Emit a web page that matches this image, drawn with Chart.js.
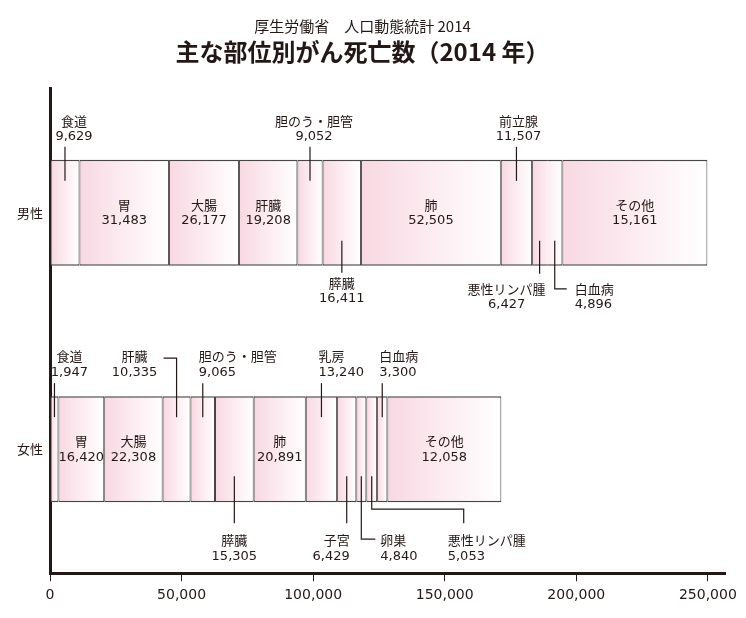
<!DOCTYPE html>
<html lang="ja">
<head>
<meta charset="utf-8">
<title>主な部位別がん死亡数（2014 年）</title>
<script src="https://cdn.jsdelivr.net/npm/chart.js@4.4.1/dist/chart.umd.min.js"></script>
<style>
  html, body { margin: 0; padding: 0; background: #fff; }
  canvas { display: block; }
</style>
</head>
<body>
<canvas id="cancer-chart" width="746" height="618"></canvas>
<script>
// 性別（縦軸のカテゴリ）
const genders = ['男性', '女性'];

// 部位（積み上げの順番）
const segments = ['食道', '胃', '大腸', '肝臓', '胆のう・胆管', '膵臓', '肺',
  '前立腺', '乳房', '子宮', '卵巣', '悪性リンパ腫', '白血病', 'その他'];

// 図に書かれている死亡数
const maleDeaths   = [9629, 31483, 26177, 19208, 9052, 16411, 52505, 11507, null, null, null, 6427, 4896, 15161];
const femaleDeaths = [1947, 16420, 22308, 10335, 9065, 15305, 20891, null, 13240, 6429, 4840, 5053, 3300, 12058];

// 横軸で読んだ帯の長さ（元の図は数値に比例して描かれていない）
const maleBarLength   = [11200, 34000, 26600, 22200, 9600, 14600, 53100, 11900, null, null, null, 5700, 5800, 55100];
const femaleBarLength = [3200, 17400, 22200, 10600, 9300, 14700, 19800, null, 11900, 7300, 3800, 4100, 3900, 43300];

// 横軸の目盛り
const xTicks = [0, 50000, 100000, 150000, 200000, 250000];

const deaths = [maleDeaths, femaleDeaths];
const barLength = [maleBarLength, femaleBarLength];

const ink = '#231815';
const edgeColor = '#4a4545';
const numberFont = '13px "DejaVu Sans"';
const nameFont = '13px "Noto Sans CJK JP"';

// 男性の悪性リンパ腫と白血病は仕切りなしの一つの枠
const mergedBoxes = [[['悪性リンパ腫', '白血病']], []];

// 引き出し線つきラベルの配置（帯の上端/下端からの相対位置）
const callouts = [
  {
    '食道':         { side: 'up', leader: [[0, 21], [0, -13]], dx: 9, dy: -39 },
    '胆のう・胆管': { side: 'up', leader: [[0, 21], [0, -13]], dx: 4, dy: -39 },
    '前立腺':       { side: 'up', leader: [[0, 21], [0, -13]], dx: 2, dy: -39 },
    '膵臓':         { side: 'down', leader: [[0, -25], [0, 7]], dx: 0, dy: 17 },
    '悪性リンパ腫': { side: 'down', leader: [[0, -25], [0, 8]], dx: -33, dy: 23 },
    '白血病':       { side: 'down', leader: [[0, -25], [0, 23], [12, 23]], dx: 20, dy: 23, align: 'left' }
  },
  {
    '食道':         { side: 'up', leader: [[0, 21], [0, -13]], dx: 15, dy: -40 },
    '肝臓':         { side: 'up', leader: [[0, 21], [0, -38], [-13, -38]], dx: -42, dy: -40 },
    '胆のう・胆管': { side: 'up', leader: [[0, 21], [0, -13]], dx: -4, dy: -40, align: 'left' },
    '乳房':         { side: 'up', leader: [[0, 21], [0, -13]], dx: -3, dy: -40, align: 'left' },
    '白血病':       { side: 'up', leader: [[0, 21], [0, -13]], dx: -3, dy: -40, align: 'left' },
    '膵臓':         { side: 'down', leader: [[0, -26], [0, 21]], dx: 0, dy: 38 },
    '子宮':         { side: 'down', leader: [[0, -26], [0, 21]], dx: 3, dy: 38, align: 'right' },
    '卵巣':         { side: 'down', leader: [[0, -26], [0, 37], [14, 37]], dx: 19, dy: 38, align: 'left' },
    '悪性リンパ腫': { side: 'down', leader: [[0, -26], [0, 7], [92, 7], [92, 21]], dx: 76, dy: 38, align: 'left' }
  }
];

function findMerge(gi, name) {
  return mergedBoxes[gi].find(group => group.includes(name));
}

// 枠の値の範囲（結合された枠は全体）
function boxRange(gi, di) {
  const lens = barLength[gi];
  const startOf = i => lens.slice(0, i).reduce((s, v) => s + (v || 0), 0);
  const group = findMerge(gi, segments[di]);
  if (group) {
    const first = segments.indexOf(group[0]);
    const last = segments.indexOf(group[group.length - 1]);
    return [startOf(first), startOf(last) + lens[last]];
  }
  return [startOf(di), startOf(di) + lens[di]];
}

function segmentFill(context) {
  const chart = context.chart;
  const xScale = chart.scales && chart.scales.x;
  if (!chart.chartArea || !xScale) return '#f9dde6';
  const [from, to] = boxRange(context.dataIndex, context.datasetIndex);
  const x0 = xScale.getPixelForValue(from);
  const x1 = xScale.getPixelForValue(to);
  if (!isFinite(x0) || !isFinite(x1) || x1 <= x0) return '#f9dde6';
  const g = chart.ctx.createLinearGradient(x0, 0, x1, 0);
  g.addColorStop(0, '#f8d8e2');
  g.addColorStop(0.5, '#fcecf1');
  g.addColorStop(1, '#ffffff');
  return g;
}

function segmentBorder(context) {
  const name = segments[context.datasetIndex];
  const w = { top: 1.5, bottom: 1.5, left: 1, right: 1 };
  const group = findMerge(context.dataIndex, name);
  if (group) {
    if (name !== group[0]) w.left = 0;
    if (name !== group[group.length - 1]) w.right = 0;
  }
  return w;
}

function drawPair(ctx, name, count, x, y, align) {
  ctx.textAlign = align;
  ctx.font = nameFont;
  ctx.fillText(name, x, y);
  ctx.font = numberFont;
  ctx.fillText(count.toLocaleString('en-US'), x, y + 16);
}

const calloutPlugin = {
  id: 'callouts',
  afterDatasetsDraw(chart) {
    const ctx = chart.ctx;
    ctx.save();
    ctx.fillStyle = ink;
    ctx.strokeStyle = ink;
    ctx.lineWidth = 1.2;
    ctx.textBaseline = 'middle';
    segments.forEach((name, di) => {
      const meta = chart.getDatasetMeta(di);
      genders.forEach((gender, gi) => {
        const count = deaths[gi][di];
        if (count == null) return;
        const bar = meta.data[gi];
        const cx = (bar.x + bar.base) / 2;
        const c = callouts[gi][name];
        if (!c) {
          drawPair(ctx, name, count, cx, bar.y - 8, 'center');
          return;
        }
        const edge = c.side === 'up' ? bar.y - bar.height / 2 : bar.y + bar.height / 2;
        ctx.beginPath();
        c.leader.forEach(([dx, dy], k) => {
          if (k === 0) ctx.moveTo(cx + dx, edge + dy);
          else ctx.lineTo(cx + dx, edge + dy);
        });
        ctx.stroke();
        drawPair(ctx, name, count, cx + c.dx, edge + c.dy, c.align || 'center');
      });
    });
    ctx.restore();
  }
};

Chart.defaults.font.family = '"Noto Sans CJK JP", "Noto Sans", sans-serif';
Chart.defaults.color = ink;

const datasets = segments.map((name, di) => ({
  label: name,
  data: [maleBarLength[di], femaleBarLength[di]],
  backgroundColor: segmentFill,
  borderColor: edgeColor,
  borderWidth: segmentBorder,
  borderSkipped: false,
  inflateAmount: 0,
  barThickness: 106
}));

new Chart(document.getElementById('cancer-chart'), {
  type: 'bar',
  data: { labels: genders, datasets },
  options: {
    indexAxis: 'y',
    responsive: false,
    animation: false,
    events: [],
    layout: { padding: { top: 0, right: 21, bottom: 8, left: 0 } },
    plugins: {
      legend: { display: false },
      tooltip: { enabled: false },
      title: {
        display: true,
        text: '厚生労働省　人口動態統計 2014',
        color: ink,
        font: { size: 15, weight: 'normal' },
        padding: { top: 17, bottom: 0 }
      },
      subtitle: {
        display: true,
        text: '主な部位別がん死亡数（2014 年）',
        color: ink,
        font: { size: 24, weight: 'bold' },
        padding: { top: 2, bottom: 23 }
      }
    },
    scales: {
      x: {
        type: 'linear',
        stacked: true,
        min: 0,
        max: 256500,
        afterBuildTicks: scale => { scale.ticks = xTicks.map(value => ({ value })); },
        ticks: {
          callback: v => v.toLocaleString('en-US'),
          font: { size: 14, family: '"DejaVu Sans"' },
          color: ink,
          padding: 6,
          maxRotation: 0,
          autoSkip: false
        },
        grid: { drawOnChartArea: false, drawTicks: true, tickLength: 8, color: ink, lineWidth: 1 },
        border: { display: true, width: 3, color: ink }
      },
      y: {
        stacked: true,
        // 帯の間隔を元の図に合わせて少し詰める
        afterBuildTicks: scale => {
          scale._startValue = -0.525;
          scale._valueRange = 2.05;
        },
        afterFit: scale => { scale.width = 50; },
        ticks: { font: { size: 13 }, color: ink, padding: 7 },
        grid: { display: false, drawTicks: false },
        border: { display: true, width: 3, color: ink }
      }
    }
  },
  plugins: [calloutPlugin]
});
</script>
</body>
</html>
